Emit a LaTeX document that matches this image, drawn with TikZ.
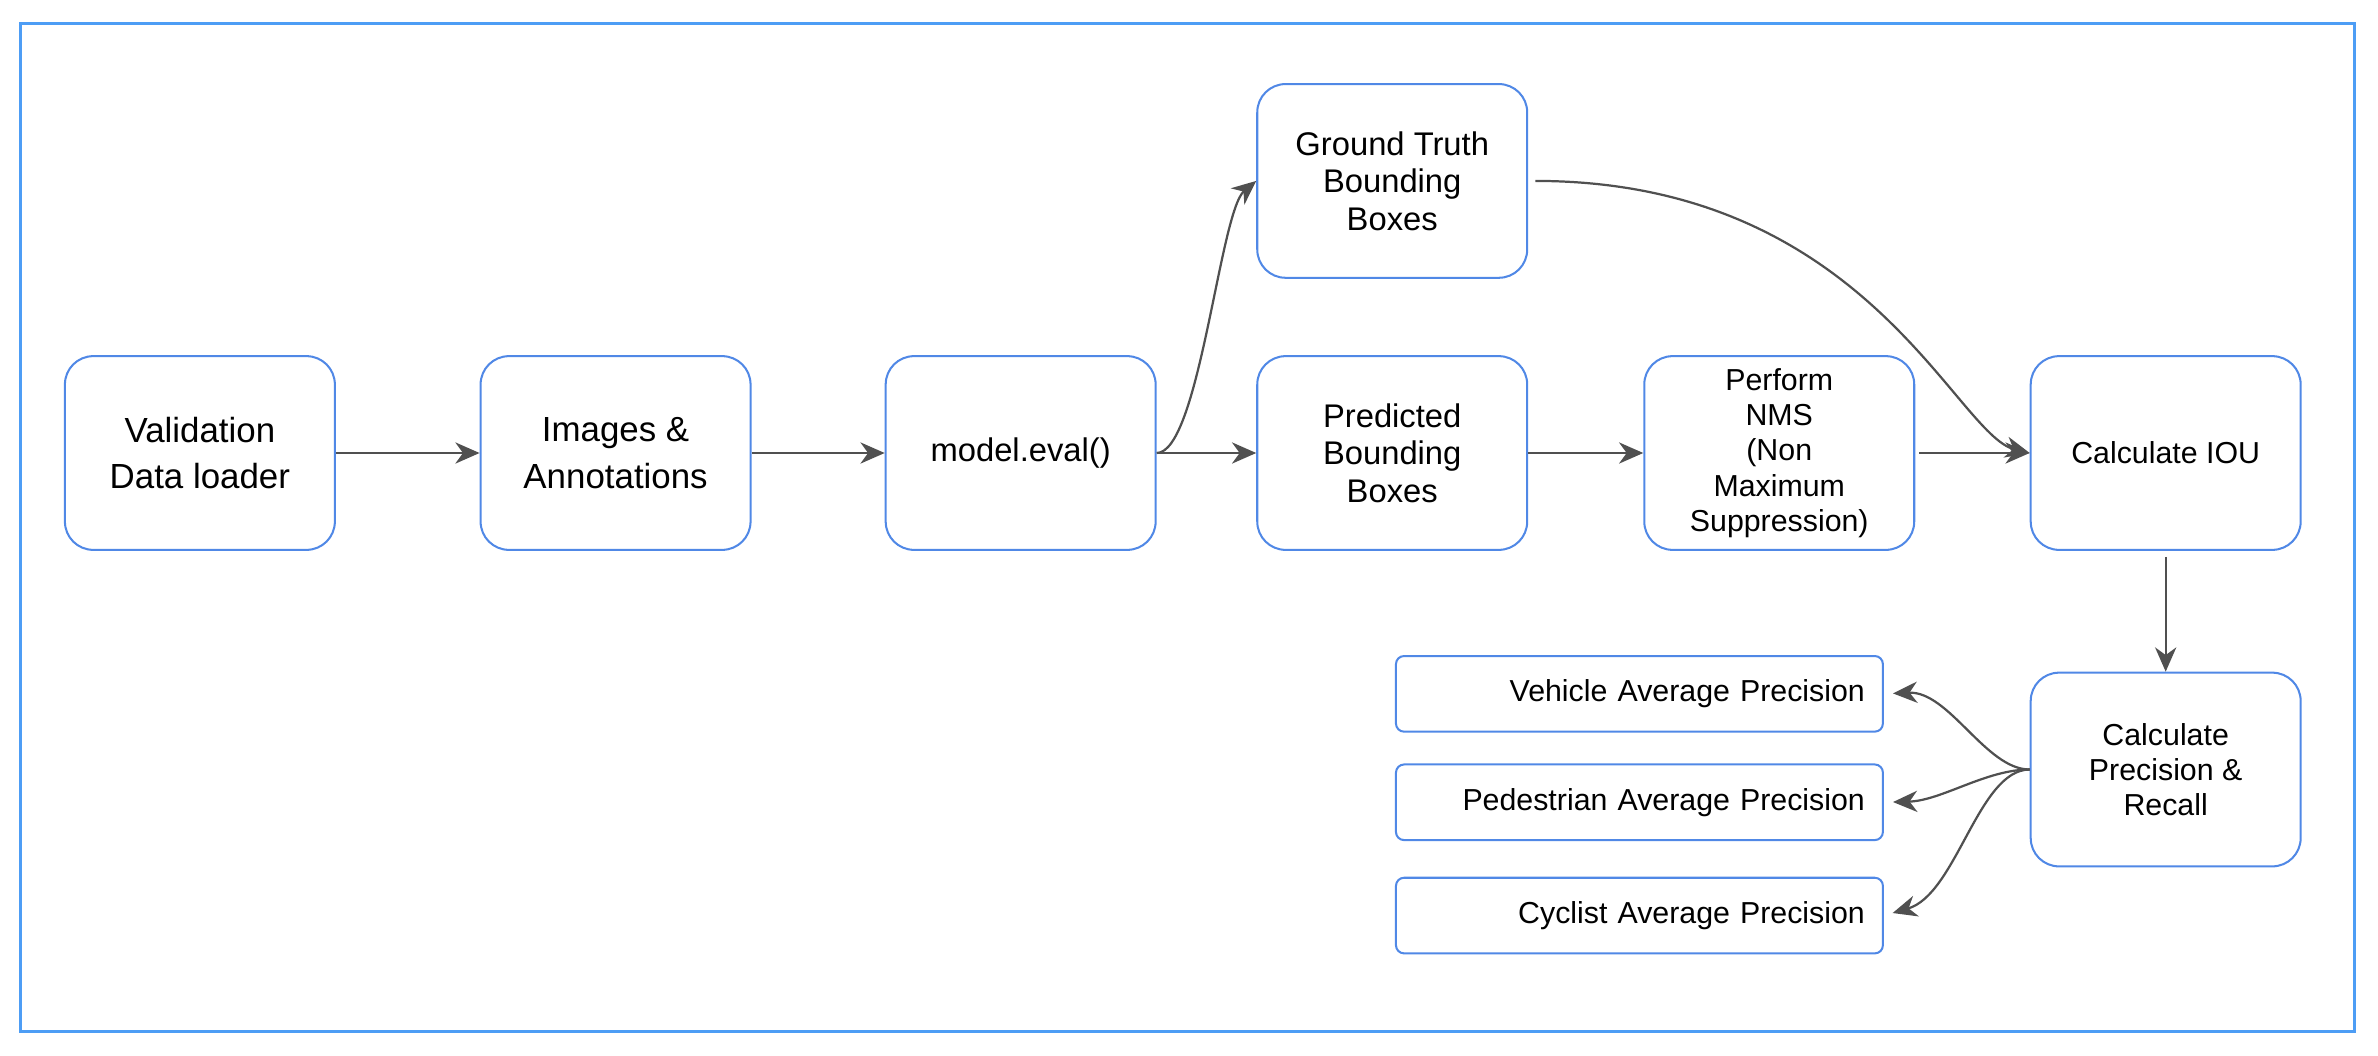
\documentclass[tikz,border=0pt]{standalone}
\usepackage{fontspec}
\setmainfont{Liberation Sans}
\usetikzlibrary{arrows.meta}
\definecolor{boxblue}{RGB}{80,136,230}
\definecolor{frameblue}{RGB}{77,157,245}
\definecolor{linegray}{RGB}{80,80,80}

\begin{document}
\begin{tikzpicture}[
  x=0.75pt, y=-0.75pt,
  box/.style={draw=boxblue, line width=1pt, rounded corners=14pt, align=center, minimum width=133.5pt, minimum height=95.8pt, fill=white, inner sep=2pt},
  big/.style={font=\fontsize{17.25}{23.1}\selectfont},
  mid/.style={font=\fontsize{16.2}{18.5}\selectfont},
  small/.style={font=\fontsize{15}{17.3}\selectfont},
  narrow/.style={font=\fontsize{15}{17.4}\selectfont},
  result/.style={draw=boxblue, line width=1pt, rounded corners=4pt, align=right, text width=223pt, inner xsep=8.9pt, minimum height=37.4pt, fill=white, font=\fontsize{15}{17.3}\selectfont},
  arrow/.style={-{Stealth[length=12pt, width=10.5pt, inset=3.8pt]}, line width=1.1pt, draw=linegray}
]

\useasboundingbox (0,0) rectangle (1568,696);
\draw[frameblue, line width=1.5pt] (13.2,15.8) rectangle (1552.2,680);

\node[box, big] (loader) at (131.8,298.7) {Validation\\Data loader};
\node[box, big] (images) at (405.9,298.7) {Images \&\\Annotations};
\node[box, mid] (model) at (673,298.7) {model.eval()};
\node[box, mid] (truth) at (918,119.3) {Ground Truth\\Bounding\\Boxes};
\node[box, mid] (pred) at (918,298.7) {Predicted\\Bounding\\Boxes};
\node[box, narrow] (nms) at (1173.2,298.7) {Perform\\NMS\\(Non\\Maximum\\Suppression)};
\node[box, small] (iou) at (1428,298.7) {Calculate IOU};
\node[box, small] (prec) at (1428,507.4) {Calculate\\Precision \&\\Recall};

\node[result] (vehicle) at (1081,457.5) {Vehicle Average Precision};
\node[result] (pedestrian) at (1081,529) {Pedestrian Average Precision};
\node[result] (cyclist) at (1081,603.7) {Cyclist Average Precision};

\draw[arrow] (loader.east) -- (images.west);
\draw[arrow] (images.east) -- (model.west);
\draw[arrow] (model.east) -- (pred.west);
\draw[arrow] (model.east) .. controls +(28,0) and +(-24,20) .. (truth.west);
\draw[arrow] (pred.east) -- (nms.west);
\draw[arrow, shorten <=2pt] (nms.east) -- (iou.west);
\draw[arrow, shorten <=3.5pt] (truth.east) .. controls +(223,0) and +(-49,-12) .. (iou.west);
\draw[arrow, shorten <=3pt] (iou.south) -- (prec.north);

\draw[arrow, shorten >=4.5pt] (prec.west) .. controls +(-29,0) and +(43,-2) .. (vehicle.east);
\draw[arrow, shorten >=4.5pt] (prec.west) .. controls +(-29,0) and +(38,-1) .. (pedestrian.east);
\draw[arrow, shorten >=4.5pt] (prec.west) .. controls +(-34,0) and +(48,-14) .. (cyclist.east);

\end{tikzpicture}
\end{document}
